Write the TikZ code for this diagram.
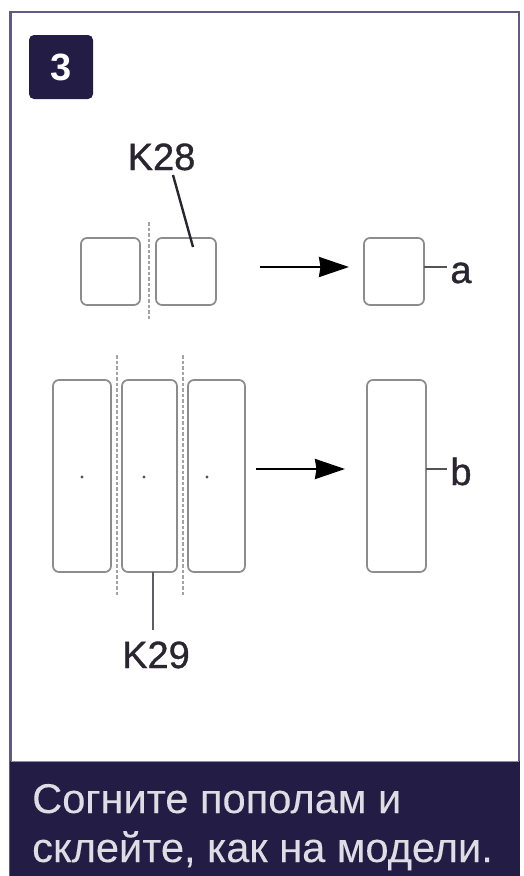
\documentclass[tikz,border=0pt]{standalone}
\usepackage{fontspec}
\setmainfont{Liberation Sans}
\newfontfamily\labfont[FakeBold=0.9]{Liberation Sans}
\newfontfamily\capfont[FakeBold=0.1]{Liberation Sans}
\usetikzlibrary{arrows.meta}
\definecolor{navy}{HTML}{231D45}
\definecolor{framec}{HTML}{5F5B85}
\definecolor{boxc}{HTML}{8C8C8C}
\definecolor{inkc}{HTML}{2A2630}
\tikzset{
  x=1pt,y=-1pt,
  panel/.style={draw=boxc,line width=1.7pt,rounded corners=6pt,fill=white,inner sep=0pt,outer sep=0pt},
  fold/.style={draw=boxc!80!white,line width=1.1pt,dash pattern=on 3.5pt off 2pt},
  leader/.style={draw=inkc,line width=2.4pt},
  tick/.style={draw=boxc!60!black,line width=2.6pt},
  flow/.style={draw=black,line width=2.4pt,-{Stealth[length=30pt,width=20pt,inset=1.5pt]}},
  lab/.style={font=\labfont\fontsize{38}{38}\selectfont,text=inkc,inner sep=0pt,anchor=base},
  caption/.style={font=\capfont\fontsize{41.6}{49}\selectfont,text=white!85!navy,inner sep=0pt,anchor=base west},
  hole/.style={circle,fill=boxc!60!black,inner sep=0pt,minimum size=3.2pt},
}
\newcommand{\panelat}[5]{\node[panel,anchor=north west,minimum width=#4pt-#2pt,minimum height=#5pt-#3pt] (#1) at (#2,#3) {};}
\begin{document}
\begin{tikzpicture}
\useasboundingbox (0,0) rectangle (523,876);
\fill[white] (0,0) rectangle (523,876);
\draw[framec,line width=2.6pt] (10.5,12) rectangle (519,876);
\fill[navy] (9.5,761) rectangle (520,876);
\draw[framec!70!white,line width=1pt] (10.5,761) -- (518.5,761);
\node[fill=navy,rounded corners=5pt,minimum size=64pt,inner sep=0pt,text=white,font=\bfseries\fontsize{38}{38}\selectfont] (badge) at (61,67) {3};
% fold lines
\coordinate (fa1) at (149,222); \coordinate (fa2) at (149,320);
\coordinate (fb1) at (117,355); \coordinate (fb2) at (117,595);
\coordinate (fc1) at (183,355); \coordinate (fc2) at (183,595);
\draw[fold] (fa1) -- (fa2);
\draw[fold] (fb1) -- (fb2);
\draw[fold] (fc1) -- (fc2);
% small pieces
\panelat{s1}{81}{238}{140}{305}
\panelat{s2}{156}{238}{216}{305}
\panelat{s3}{364}{238}{424}{305}
% long pieces
\panelat{l1}{53}{380}{111}{572}
\panelat{l2}{122}{380}{177}{572}
\panelat{l3}{188}{380}{245}{572}
\panelat{l4}{367}{380}{426}{572}
\node[hole] (d1) at (82,477) {};
\node[hole] (d2) at (144,477) {};
\node[hole] (d3) at (207,477) {};
% labels
\node[lab] (k28) at (161.5,170) {K28};
\node[lab] (k29) at (156,668) {K29};
\node[lab] (la) at (461,283) {a};
\node[lab] (lb) at (461,485) {b};
% leaders
\coordinate (k28e) at (173,175); \coordinate (k28i) at (193,247);
\draw[leader] (k28e) -- (k28i);
\coordinate (k29e) at (153,630);
\draw[leader,draw=inkc!75!white] (l2.south -| k29e) -- (k29e);
\coordinate (ta) at (447,267); \coordinate (tb) at (447,469);
\draw[tick] (s3.east |- ta) -- (ta);
\draw[tick] (l4.east |- tb) -- (tb);
% arrows
\coordinate (a1s) at (260,267); \coordinate (a1e) at (349,267);
\coordinate (a2s) at (256,469); \coordinate (a2e) at (345,469);
\draw[flow] (a1s) -- (a1e);
\draw[flow] (a2s) -- (a2e);
% caption
\node[caption] (c1) at (32,813) {Согните пополам и};
\node[caption] (c2) at (32,862) {склейте, как на модели.};
\end{tikzpicture}
\end{document}
